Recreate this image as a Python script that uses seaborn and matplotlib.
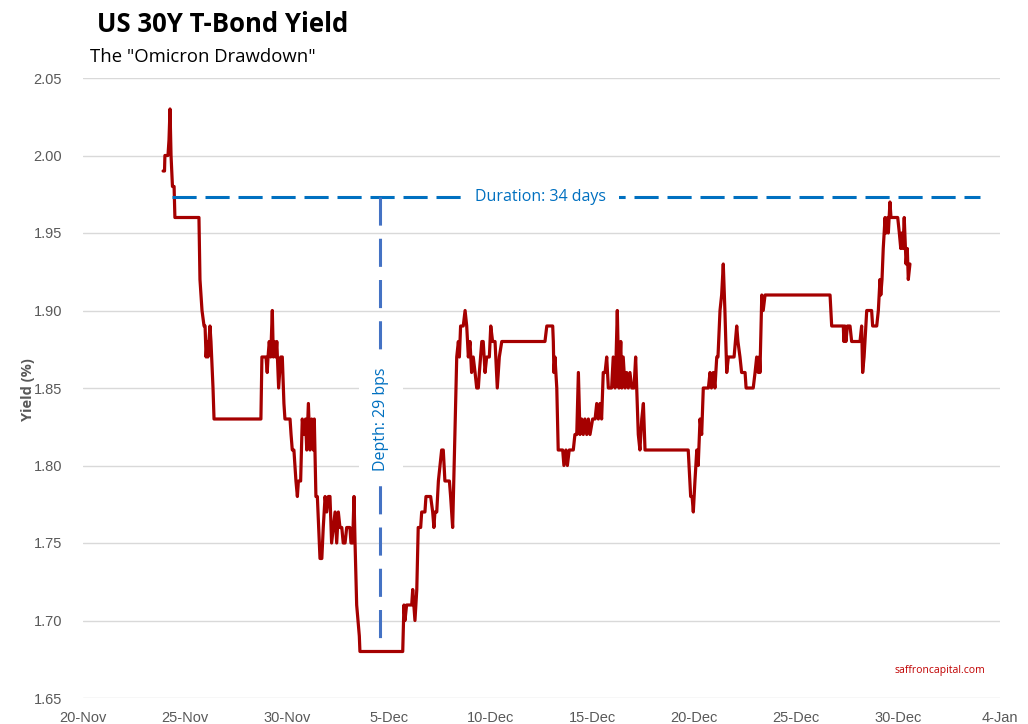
import numpy as np
import pandas as pd
import matplotlib
matplotlib.use("Agg")
import matplotlib.pyplot as plt
import matplotlib.ticker as mticker
from matplotlib import font_manager
import seaborn as sns

# ---- data (days after 20-Nov-2021, yield %) ----
days = [3.93, 4.00, 4.02, 4.17, 4.22, 4.27, 4.32, 4.39, 4.47, 4.51,
        5.69, 5.74, 5.84, 5.94, 5.99, 6.04, 6.09, 6.13, 6.23, 6.28, 6.38, 6.43,
        8.73, 8.78, 8.98, 9.04, 9.08, 9.14, 9.21, 9.29, 9.34, 9.39, 9.46, 9.51,
        9.60, 9.70, 9.78, 9.83, 9.86, 9.91, 10.16, 10.21, 10.27, 10.35, 10.40,
        10.45, 10.52, 10.57, 10.68, 10.76, 10.85, 10.92, 10.98, 11.06, 11.14,
        11.22, 11.30, 11.35, 11.43, 11.50, 11.63, 11.72, 11.79, 11.88, 11.96,
        12.04, 12.12, 12.20, 12.37, 12.45, 12.53, 12.61, 12.70, 12.77, 12.86,
        12.94, 13.10, 13.15, 13.23, 13.30, 13.35, 13.43, 13.56, 13.59,
        15.69, 15.75, 15.80, 15.88, 16.13, 16.18, 16.29, 16.38, 16.45, 16.57,
        16.62, 16.78, 16.83, 17.06, 17.16, 17.22, 17.27, 17.36, 17.44, 17.60,
        17.68, 17.76, 17.98, 18.04, 18.14, 18.21, 18.25, 18.34, 18.42, 18.47,
        18.53, 18.66, 18.75, 18.83, 18.91, 18.99, 19.07, 19.15, 19.24, 19.32,
        19.40, 19.45, 19.57, 19.64, 19.73, 19.81, 19.94, 20.01, 20.10, 20.22,
        20.33, 20.43, 20.55, 22.67, 22.76, 23.05, 23.08, 23.11, 23.16, 23.25,
        23.32, 23.54, 23.60, 23.70, 23.77, 23.86, 24.06, 24.14, 24.23, 24.31,
        24.39, 24.47, 24.55, 24.63, 24.72, 24.80, 24.88, 25.01, 25.13, 25.21,
        25.29, 25.37, 25.45, 25.53, 25.62, 25.70, 25.78, 25.94, 26.02, 26.11,
        26.16, 26.22, 26.30, 26.39, 26.44, 26.51, 26.60, 26.68, 26.76, 26.84,
        26.93, 27.04, 27.12, 27.17, 27.25, 27.33, 27.42, 27.50, 27.58,
        29.70, 29.82, 29.89, 29.95, 30.03, 30.12, 30.19, 30.28, 30.36, 30.44,
        30.69, 30.77, 30.84, 30.93, 31.01, 31.10, 31.16, 31.26, 31.34, 31.42,
        31.50, 31.59, 31.67, 31.95, 32.08, 32.14, 32.24, 32.32, 32.49, 32.54,
        32.89, 32.98, 33.06, 33.14, 33.19, 33.22, 33.31, 33.38, 33.47,
        36.66, 36.74, 37.31, 37.34, 37.39, 37.44, 37.51, 37.64, 37.72, 38.13,
        38.21, 38.26, 38.33, 38.46, 38.70, 38.75, 38.95, 39.03, 39.11, 39.15,
        39.21, 39.27, 39.36, 39.41, 39.49, 39.52, 39.60, 39.65, 39.98, 40.06,
        40.13, 40.18, 40.24, 40.30, 40.39, 40.45, 40.50, 40.58]

yields = [1.99, 1.99, 2.00, 2.00, 2.01, 2.03, 2.00, 1.98, 1.98, 1.96,
          1.96, 1.92, 1.90, 1.89, 1.89, 1.87, 1.88, 1.87, 1.89, 1.88, 1.85, 1.83,
          1.83, 1.87, 1.87, 1.86, 1.87, 1.88, 1.87, 1.90, 1.87, 1.88, 1.87, 1.88,
          1.85, 1.87, 1.87, 1.85, 1.84, 1.83, 1.83, 1.82, 1.81, 1.81, 1.80,
          1.79, 1.78, 1.79, 1.79, 1.83, 1.82, 1.83, 1.81, 1.84, 1.81,
          1.83, 1.81, 1.83, 1.78, 1.78, 1.74, 1.74, 1.76, 1.78, 1.77,
          1.78, 1.78, 1.75, 1.77, 1.75, 1.77, 1.76, 1.76, 1.75, 1.75,
          1.76, 1.76, 1.75, 1.75, 1.78, 1.75, 1.71, 1.69, 1.68,
          1.68, 1.71, 1.70, 1.71, 1.71, 1.72, 1.70, 1.72, 1.76, 1.76,
          1.77, 1.77, 1.78, 1.78, 1.77, 1.76, 1.77, 1.77, 1.79, 1.81,
          1.81, 1.79, 1.79, 1.78, 1.76, 1.80, 1.82, 1.87, 1.88, 1.87,
          1.89, 1.89, 1.90, 1.89, 1.87, 1.88, 1.86, 1.87, 1.86, 1.85,
          1.85, 1.86, 1.88, 1.88, 1.86, 1.87, 1.87, 1.89, 1.88, 1.88,
          1.85, 1.87, 1.88, 1.88, 1.89, 1.89, 1.88, 1.86, 1.87, 1.85,
          1.81, 1.81, 1.80, 1.81, 1.80, 1.81, 1.81, 1.82, 1.82, 1.86,
          1.82, 1.83, 1.82, 1.83, 1.82, 1.83, 1.82, 1.83, 1.83, 1.84,
          1.83, 1.84, 1.83, 1.86, 1.86, 1.87, 1.85, 1.85, 1.87, 1.85,
          1.87, 1.90, 1.85, 1.88, 1.85, 1.87, 1.85, 1.86, 1.85, 1.86,
          1.85, 1.85, 1.87, 1.85, 1.82, 1.81, 1.83, 1.84, 1.81,
          1.81, 1.78, 1.78, 1.77, 1.79, 1.81, 1.80, 1.83, 1.82, 1.85,
          1.85, 1.86, 1.85, 1.86, 1.85, 1.87, 1.87, 1.90, 1.91, 1.93,
          1.90, 1.86, 1.87, 1.87, 1.89, 1.88, 1.87, 1.86, 1.86, 1.85,
          1.85, 1.86, 1.87, 1.86, 1.87, 1.86, 1.91, 1.90, 1.91,
          1.91, 1.89, 1.89, 1.88, 1.89, 1.88, 1.89, 1.89, 1.88, 1.88,
          1.89, 1.86, 1.87, 1.90, 1.90, 1.89, 1.89, 1.90, 1.92, 1.91,
          1.92, 1.94, 1.96, 1.95, 1.96, 1.95, 1.97, 1.96, 1.96, 1.95,
          1.94, 1.95, 1.94, 1.96, 1.93, 1.94, 1.92, 1.93]

# annotation data
prior_high = 1.973          # level of the drawdown "duration" line
trough = 1.688              # bottom of the "depth" line
duration_span = [4.37, 44.02]   # days after 20-Nov
depth_day = 14.57
duration_label = "Duration: 34 days"
depth_label = "Depth: 29 bps"

x_tick_labels = ["20-Nov", "25-Nov", "30-Nov", "5-Dec", "10-Dec",
                 "15-Dec", "20-Dec", "25-Dec", "30-Dec", "4-Jan"]
y_ticks = [1.65, 1.70, 1.75, 1.80, 1.85, 1.90, 1.95, 2.00, 2.05]

base = pd.Timestamp("2021-11-20")
df = pd.DataFrame({"time": base + pd.to_timedelta(days, unit="D"),
                   "yield": yields})

sns.set_style("white")
plt.rcParams["font.family"] = ["DejaVu Sans"]

installed = {f.name for f in font_manager.fontManager.ttflist}
tick_family = "Liberation Sans Narrow" if "Liberation Sans Narrow" in installed else "Liberation Sans"

fig = plt.figure(figsize=(10.28, 7.24), dpi=100)
ax = fig.add_axes([83/1028, 1 - 698/724, (1000 - 83)/1028, (698 - 78)/724])

sns.lineplot(data=df, x="time", y="yield", ax=ax, color="#A50000",
             linewidth=2.3, estimator=None, sort=False, zorder=3)

ax.set_xlim(base, base + pd.Timedelta(days=45))
ax.set_ylim(1.65, 2.05)
tick_dates = [base + pd.Timedelta(days=5 * i) for i in range(len(x_tick_labels))]
ax.set_xticks(tick_dates)
ax.set_xticklabels(x_tick_labels)
ax.set_yticks(y_ticks)
ax.yaxis.set_major_formatter(mticker.FormatStrFormatter("%.2f"))

for lab in ax.get_xticklabels() + ax.get_yticklabels():
    lab.set_family(tick_family)
    lab.set_fontsize(10.5)
    lab.set_color("#595959")
ax.tick_params(axis="x", length=0, pad=9)
ax.tick_params(axis="y", length=0, pad=15)

ax.grid(axis="y", color="#D9D9D9", linewidth=1.0, zorder=0)
ax.grid(axis="x", visible=False)
for s in ax.spines.values():
    s.set_visible(False)
ax.set_xlabel("")
ax.set_ylabel("")

# duration line
ax.plot([base + pd.Timedelta(days=duration_span[0]),
         base + pd.Timedelta(days=duration_span[1])],
        [prior_high, prior_high], color="#0070C0", linewidth=2.2,
        linestyle=(0, (7.9, 2.9)), zorder=4)
# depth line
dd = base + pd.Timedelta(days=depth_day)
ax.plot([dd, dd], [prior_high, trough], color="#4472C4", linewidth=2.2,
        linestyle=(0, (9.2, 4.3)), zorder=4)

ax.text(base + pd.Timedelta(days=22.47), prior_high, duration_label,
        color="#0070C0", fontsize=11.5, family="Open Sans", ha="center",
        va="center", zorder=5,
        bbox=dict(facecolor="white", edgecolor="none", pad=9))
ax.text(base + pd.Timedelta(days=14.62), 1.830, depth_label,
        color="#0070C0", fontsize=11.5, family="Open Sans", ha="center",
        va="center", rotation=90, zorder=5,
        bbox=dict(facecolor="white", edgecolor="none", pad=10))

fig.text(97/1028, 1 - 24/724, "US 30Y T-Bond Yield", fontsize=18.5,
         fontweight="bold", family="Open Sans", ha="left", va="center",
         color="black")
fig.text(90/1028, 1 - 57/724, 'The "Omicron Drawdown"', fontsize=13.3,
         family="Open Sans", ha="left", va="center", color="black")
fig.text(28/1028, 1 - 390/724, "Yield (%)", fontsize=10.5,
         fontweight="bold", family="Open Sans", rotation=90,
         ha="center", va="center", color="#595959")
fig.text(940/1028, 1 - 671/724, "saffroncapital.com", fontsize=7.5,
         family="Open Sans", ha="center", va="center", color="#C00000")

fig.savefig("out.png", dpi=100, facecolor="white")
